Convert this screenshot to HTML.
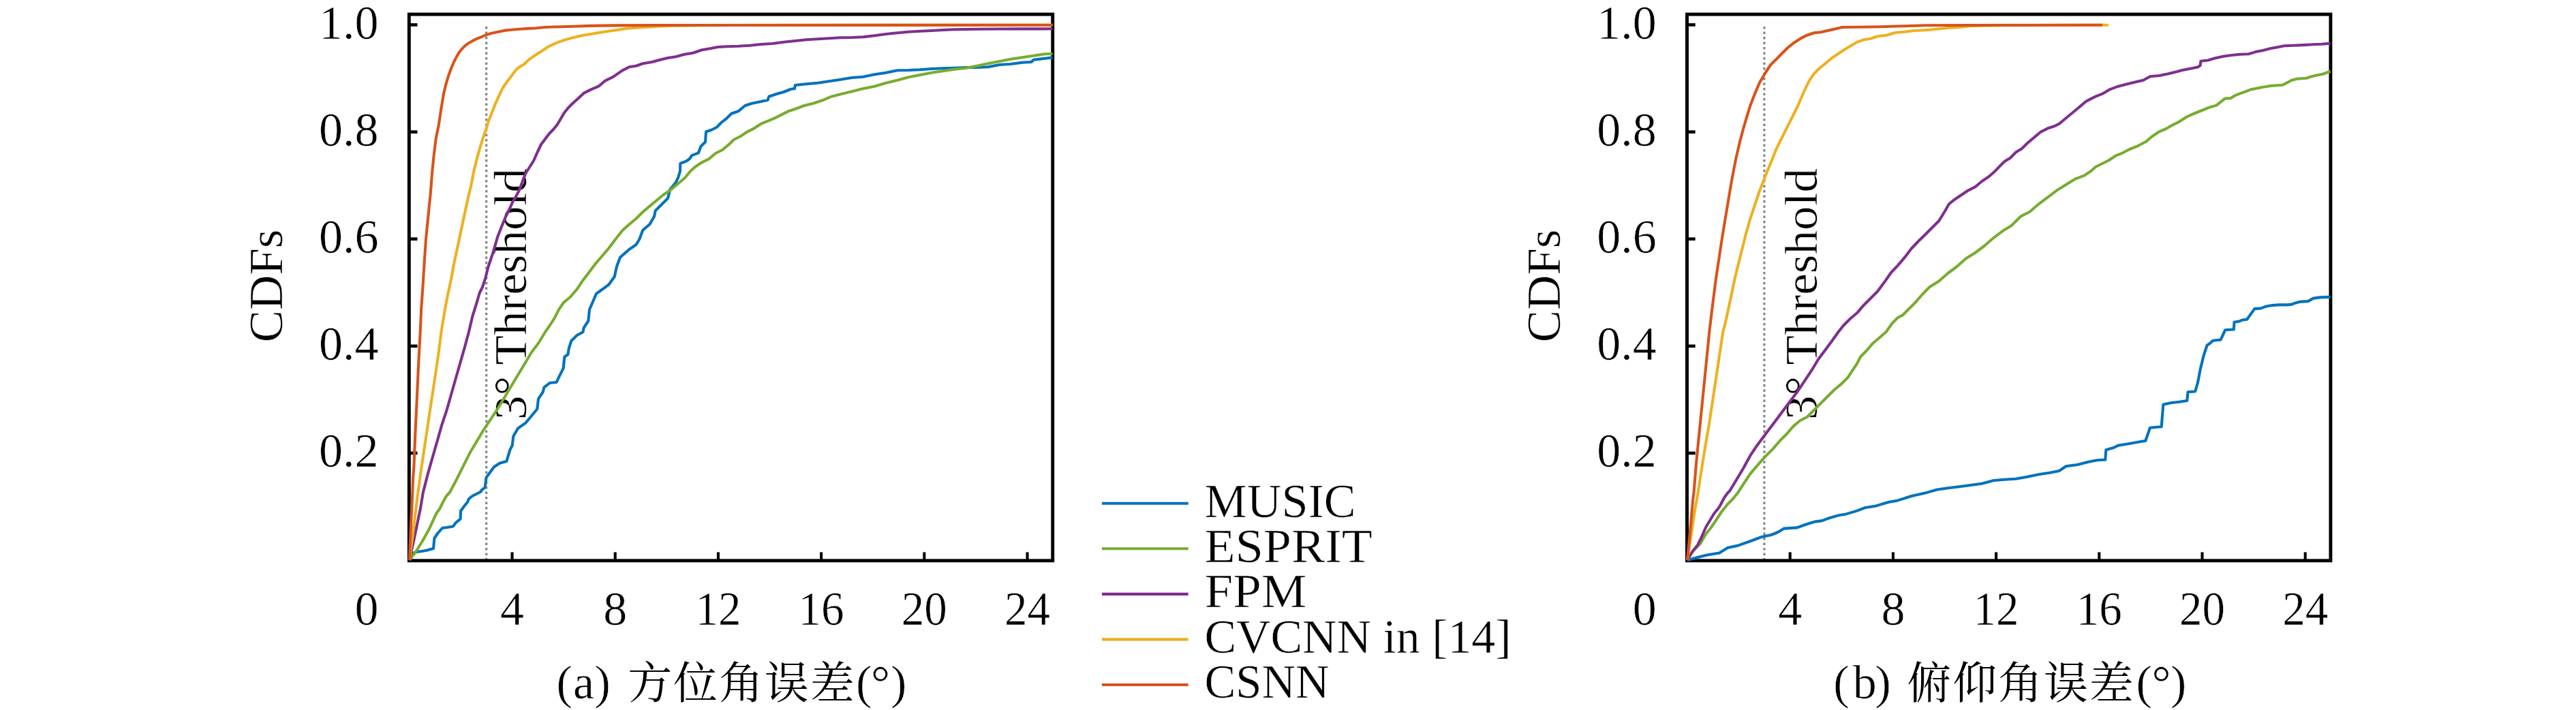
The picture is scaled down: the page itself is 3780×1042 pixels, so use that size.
<!DOCTYPE html>
<html lang="zh"><head><meta charset="utf-8"><title>CDFs</title>
<style>html,body{margin:0;padding:0;background:#fff}svg{display:block}text{font-family:"Liberation Serif","Noto Serif CJK SC",serif;fill:#000;stroke:#fff;stroke-width:0.55px;paint-order:fill stroke}.cj{font-family:"Noto Serif CJK SC","Liberation Serif",serif;stroke:none}</style></head><body>
<svg width="3780" height="1042" viewBox="0 0 3780 1042">
<rect width="3780" height="1042" fill="#fff"/>
<line x1="713.7" y1="822.5" x2="713.7" y2="37.4" stroke="#858585" stroke-width="3.2" stroke-dasharray="3.4 4.1"/>
<line x1="600.3" y1="665.0" x2="612.5" y2="665.0" stroke="#000" stroke-width="4.6"/>
<text x="555.5" y="685.2" font-size="70" text-anchor="end">0.2</text>
<line x1="600.3" y1="507.9" x2="612.5" y2="507.9" stroke="#000" stroke-width="4.6"/>
<text x="555.5" y="528.1" font-size="70" text-anchor="end">0.4</text>
<line x1="600.3" y1="350.7" x2="612.5" y2="350.7" stroke="#000" stroke-width="4.6"/>
<text x="555.5" y="370.9" font-size="70" text-anchor="end">0.6</text>
<line x1="600.3" y1="193.6" x2="612.5" y2="193.6" stroke="#000" stroke-width="4.6"/>
<text x="555.5" y="213.8" font-size="70" text-anchor="end">0.8</text>
<line x1="600.3" y1="36.4" x2="612.5" y2="36.4" stroke="#000" stroke-width="4.6"/>
<text x="555.5" y="56.6" font-size="70" text-anchor="end">1.0</text>
<line x1="751.5" y1="822.8" x2="751.5" y2="810.4" stroke="#000" stroke-width="4.1"/>
<text x="751.5" y="917.4" font-size="70" text-anchor="middle">4</text>
<line x1="902.7" y1="822.8" x2="902.7" y2="810.4" stroke="#000" stroke-width="4.1"/>
<text x="902.7" y="917.4" font-size="70" text-anchor="middle">8</text>
<line x1="1053.9" y1="822.8" x2="1053.9" y2="810.4" stroke="#000" stroke-width="4.1"/>
<text x="1053.9" y="917.4" font-size="70" text-anchor="middle" textLength="67" lengthAdjust="spacingAndGlyphs">12</text>
<line x1="1205.1" y1="822.8" x2="1205.1" y2="810.4" stroke="#000" stroke-width="4.1"/>
<text x="1205.1" y="917.4" font-size="70" text-anchor="middle" textLength="67" lengthAdjust="spacingAndGlyphs">16</text>
<line x1="1356.3" y1="822.8" x2="1356.3" y2="810.4" stroke="#000" stroke-width="4.1"/>
<text x="1356.3" y="917.4" font-size="70" text-anchor="middle" textLength="67" lengthAdjust="spacingAndGlyphs">20</text>
<line x1="1507.5" y1="822.8" x2="1507.5" y2="810.4" stroke="#000" stroke-width="4.1"/>
<text x="1507.5" y="917.4" font-size="70" text-anchor="middle" textLength="67" lengthAdjust="spacingAndGlyphs">24</text>
<text x="555.5" y="917.4" font-size="70" text-anchor="end">0</text>
<rect x="600.3" y="21.0" width="944.4" height="801.8" fill="none" stroke="#000" stroke-width="4.9"/>
<text transform="translate(771.5,616) rotate(-90)" font-size="68" textLength="369" lengthAdjust="spacingAndGlyphs">3° Threshold</text>
<polyline fill="none" stroke="#0072BD" stroke-width="4.1" stroke-linejoin="round" stroke-linecap="butt" points="600.8,822.0 605.0,812.0 612.0,810.0 625.0,808.0 636.0,805.0 637.4,790.0 642.0,783.0 649.0,775.0 656.0,774.0 665.0,772.4 669.0,767.0 675.6,761.6 676.0,750.0 681.0,743.0 686.0,737.0 688.0,732.0 693.0,728.0 699.0,725.0 705.0,722.0 707.0,719.0 711.7,715.3 713.5,701.0 715.0,698.7 725.0,685.3 733.3,679.7 743.3,677.0 748.3,660.3 751.7,653.7 753.3,640.3 760.0,628.7 771.7,620.3 780.0,610.3 788.3,600.3 790.0,585.3 796.7,575.3 798.3,568.7 806.7,562.0 816.7,561.0 820.0,553.7 826.7,540.3 828.3,523.7 833.3,520.3 835.0,510.3 838.3,500.3 846.7,492.0 855.5,487.2 856.7,481.0 863.3,471.0 865.0,454.3 870.0,442.7 875.0,431.0 886.7,422.7 893.3,417.7 901.7,406.0 905.0,391.0 910.0,377.7 923.3,366.0 933.3,359.3 938.3,351.0 943.3,337.7 953.3,329.3 960.0,317.7 961.7,309.3 971.7,299.3 980.0,291.0 983.3,277.7 991.7,267.7 995.0,261.0 998.0,251.2 998.3,240.0 1006.7,236.7 1011.7,233.3 1015.0,228.3 1025.0,224.3 1028.3,215.0 1035.0,208.3 1036.0,193.3 1043.3,191.0 1051.7,186.7 1058.3,180.0 1066.7,173.3 1073.3,166.7 1083.3,163.3 1093.3,155.0 1103.3,151.7 1116.7,149.0 1126.7,146.7 1128.3,141.7 1140.0,137.7 1150.0,135.0 1160.0,131.0 1166.0,130.0 1166.7,125.0 1183.3,123.3 1200.0,121.7 1216.7,119.3 1233.3,116.7 1250.0,114.0 1266.7,112.7 1283.3,109.3 1300.0,106.7 1316.7,103.3 1333.3,103.0 1350.0,102.3 1366.7,101.0 1383.3,100.3 1400.0,99.7 1416.7,99.0 1433.3,99.0 1450.0,98.3 1466.7,95.0 1483.3,94.0 1500.0,91.7 1513.3,91.0 1516.7,87.7 1533.3,85.7 1544.5,84.4"/>
<polyline fill="none" stroke="#77AC30" stroke-width="4.1" stroke-linejoin="round" stroke-linecap="butt" points="600.8,822.0 610.0,810.0 620.0,794.0 630.0,776.0 640.0,754.0 645.0,747.0 650.0,737.0 655.0,728.0 660.0,722.5 670.0,703.7 680.0,683.7 690.0,663.7 700.0,647.0 710.0,630.3 720.0,615.3 730.0,600.3 740.0,583.7 750.0,567.0 760.0,550.3 770.0,533.7 780.0,517.0 790.0,503.7 800.0,487.2 806.7,477.7 813.3,467.7 820.0,454.3 826.7,444.3 836.7,436.0 846.7,424.3 853.3,414.3 863.3,401.0 873.3,387.7 883.3,376.0 893.3,364.3 903.3,351.0 913.3,338.3 923.3,329.3 933.3,321.0 943.3,311.0 953.3,302.7 963.3,294.3 973.3,286.0 983.3,279.3 993.3,271.0 1005.0,261.0 1013.0,251.2 1020.0,245.0 1030.0,238.3 1040.0,233.3 1050.0,225.0 1060.0,220.0 1070.0,211.7 1076.7,205.0 1086.7,200.0 1096.7,193.3 1106.7,188.3 1116.7,181.7 1126.7,177.7 1136.7,173.3 1146.7,168.3 1156.7,163.3 1166.7,160.0 1180.0,155.0 1193.3,151.7 1206.7,147.3 1220.0,141.7 1233.3,138.3 1250.0,134.3 1266.7,130.0 1283.3,126.7 1300.0,121.7 1316.7,117.7 1333.3,113.3 1350.0,110.0 1366.7,106.7 1383.3,104.3 1400.0,101.7 1416.7,100.0 1433.3,96.7 1450.0,93.3 1466.7,90.0 1483.3,86.7 1500.0,84.3 1516.7,81.7 1533.3,79.3 1544.5,79.0"/>
<polyline fill="none" stroke="#7E2F8E" stroke-width="4.1" stroke-linejoin="round" stroke-linecap="butt" points="600.8,822.0 607.0,794.0 612.0,770.0 617.0,746.0 620.7,723.3 628.3,693.7 635.0,670.3 641.7,647.0 648.3,623.7 655.0,603.7 661.7,580.3 668.3,557.0 675.0,533.7 681.7,510.3 688.0,487.0 693.3,464.3 699.5,444.3 703.7,430.0 707.9,421.5 712.1,408.9 716.3,392.0 723.4,370.8 730.4,346.9 737.5,329.0 742.4,317.3 748.0,306.0 752.3,296.2 757.3,288.0 762.0,279.0 766.8,266.0 771.5,254.0 777.0,245.5 783.0,236.0 788.5,223.5 794.0,212.0 800.0,204.0 806.0,196.0 812.0,190.0 818.0,182.5 823.0,174.0 828.0,165.5 834.0,158.0 840.0,152.0 846.7,146.0 856.7,136.7 866.7,131.7 878.3,126.7 888.3,118.3 900.0,112.7 913.3,103.3 923.3,98.3 933.3,96.7 943.3,93.3 956.7,91.0 966.7,88.3 980.0,85.0 991.7,83.3 1003.3,80.0 1016.7,77.7 1030.0,73.3 1043.3,71.0 1053.3,69.0 1066.7,68.3 1083.3,67.7 1100.0,66.7 1116.7,65.0 1133.3,64.0 1150.0,61.7 1166.7,60.0 1183.3,58.3 1200.0,57.3 1216.7,56.3 1233.3,55.3 1250.0,55.0 1266.7,54.3 1283.3,52.3 1300.0,50.0 1316.7,48.3 1333.3,46.7 1350.0,45.7 1366.7,45.0 1383.3,44.0 1400.0,43.3 1433.3,42.7 1466.7,42.5 1500.0,42.4 1544.5,42.3"/>
<polyline fill="none" stroke="#EDB120" stroke-width="4.1" stroke-linejoin="round" stroke-linecap="butt" points="600.8,822.0 605.0,790.0 610.0,750.0 613.3,723.3 618.3,687.0 623.3,653.7 628.3,620.3 633.3,587.0 638.3,553.7 643.3,520.3 647.5,487.0 651.7,461.0 656.7,434.3 661.7,411.0 666.7,384.3 671.7,361.0 676.7,337.7 681.7,314.3 686.7,291.0 691.5,271.0 695.4,251.0 699.0,236.0 702.2,224.0 706.9,208.3 713.4,189.0 717.1,177.0 722.1,164.6 727.0,152.0 732.1,140.9 737.1,130.0 743.3,121.0 749.7,112.5 754.5,106.0 759.0,100.5 764.5,97.0 769.5,94.0 776.8,87.0 783.2,82.5 789.4,78.5 796.9,73.7 804.0,68.8 811.8,65.0 819.3,61.9 826.8,59.3 834.3,56.9 840.0,55.5 853.3,52.3 866.7,50.0 880.0,47.7 893.3,45.7 906.7,43.7 920.0,41.7 933.3,40.7 950.0,39.7 966.7,38.7 983.3,38.0 1000.0,37.7 1033.0,37.3 1070.0,37.0 1544.5,36.8"/>
<polyline fill="none" stroke="#D95319" stroke-width="4.1" stroke-linejoin="round" stroke-linecap="butt" points="600.8,822.0 603.0,770.0 605.3,723.0 606.2,700.0 607.3,687.0 609.3,637.0 611.7,587.0 614.0,537.0 616.7,487.0 618.3,451.0 620.7,417.7 622.7,384.3 625.0,351.0 628.3,317.7 631.7,284.3 634.3,251.0 637.0,225.0 639.9,201.9 643.6,184.5 647.4,159.6 651.1,137.1 654.8,122.2 658.6,109.7 662.3,99.8 666.0,91.0 669.8,83.6 673.5,77.3 677.3,72.4 682.2,67.4 687.2,63.6 693.5,59.9 699.7,56.9 707.2,53.9 713.4,51.2 719.6,49.2 729.6,46.9 739.6,44.9 749.5,43.7 762.0,42.7 774.5,41.9 786.9,41.2 799.4,40.0 811.8,39.5 824.3,39.2 840.0,38.8 866.7,37.9 900.0,37.4 966.0,37.0 1544.5,36.8"/>
<text transform="translate(414.0,419.5) rotate(-90)" font-size="70" text-anchor="middle" textLength="166" lengthAdjust="spacingAndGlyphs">CDFs</text>
<text y="1025" font-size="70" x="816.5 841.0 872.5">(a) <tspan class="cj" font-size="65" x="921.3 988.1 1055.0 1121.8 1188.7">方位角误差</tspan><tspan x="1256.0 1278.0 1307.0">(°)</tspan></text>
<line x1="2588.9" y1="822.5" x2="2588.9" y2="37.4" stroke="#858585" stroke-width="3.2" stroke-dasharray="3.4 4.1"/>
<line x1="2475.5" y1="665.0" x2="2487.7" y2="665.0" stroke="#000" stroke-width="4.6"/>
<text x="2430.7" y="685.2" font-size="70" text-anchor="end">0.2</text>
<line x1="2475.5" y1="507.9" x2="2487.7" y2="507.9" stroke="#000" stroke-width="4.6"/>
<text x="2430.7" y="528.1" font-size="70" text-anchor="end">0.4</text>
<line x1="2475.5" y1="350.7" x2="2487.7" y2="350.7" stroke="#000" stroke-width="4.6"/>
<text x="2430.7" y="370.9" font-size="70" text-anchor="end">0.6</text>
<line x1="2475.5" y1="193.6" x2="2487.7" y2="193.6" stroke="#000" stroke-width="4.6"/>
<text x="2430.7" y="213.8" font-size="70" text-anchor="end">0.8</text>
<line x1="2475.5" y1="36.4" x2="2487.7" y2="36.4" stroke="#000" stroke-width="4.6"/>
<text x="2430.7" y="56.6" font-size="70" text-anchor="end">1.0</text>
<line x1="2626.7" y1="822.8" x2="2626.7" y2="810.4" stroke="#000" stroke-width="4.1"/>
<text x="2626.7" y="917.4" font-size="70" text-anchor="middle">4</text>
<line x1="2777.9" y1="822.8" x2="2777.9" y2="810.4" stroke="#000" stroke-width="4.1"/>
<text x="2777.9" y="917.4" font-size="70" text-anchor="middle">8</text>
<line x1="2929.1" y1="822.8" x2="2929.1" y2="810.4" stroke="#000" stroke-width="4.1"/>
<text x="2929.1" y="917.4" font-size="70" text-anchor="middle" textLength="67" lengthAdjust="spacingAndGlyphs">12</text>
<line x1="3080.3" y1="822.8" x2="3080.3" y2="810.4" stroke="#000" stroke-width="4.1"/>
<text x="3080.3" y="917.4" font-size="70" text-anchor="middle" textLength="67" lengthAdjust="spacingAndGlyphs">16</text>
<line x1="3231.5" y1="822.8" x2="3231.5" y2="810.4" stroke="#000" stroke-width="4.1"/>
<text x="3231.5" y="917.4" font-size="70" text-anchor="middle" textLength="67" lengthAdjust="spacingAndGlyphs">20</text>
<line x1="3382.7" y1="822.8" x2="3382.7" y2="810.4" stroke="#000" stroke-width="4.1"/>
<text x="3382.7" y="917.4" font-size="70" text-anchor="middle" textLength="67" lengthAdjust="spacingAndGlyphs">24</text>
<text x="2430.7" y="917.4" font-size="70" text-anchor="end">0</text>
<rect x="2475.5" y="21.0" width="944.4" height="801.8" fill="none" stroke="#000" stroke-width="4.9"/>
<text transform="translate(2665.5,616) rotate(-90)" font-size="68" textLength="369" lengthAdjust="spacingAndGlyphs">3° Threshold</text>
<polyline fill="none" stroke="#0072BD" stroke-width="4.1" stroke-linejoin="round" stroke-linecap="butt" points="2476.0,822.0 2491.0,818.0 2505.0,814.4 2523.0,811.4 2535.0,804.0 2551.0,800.4 2569.0,794.0 2585.0,788.0 2599.0,785.0 2609.0,781.0 2618.0,775.6 2637.0,774.4 2649.0,770.0 2663.0,765.6 2673.0,764.4 2685.0,760.0 2697.0,756.6 2709.0,754.4 2725.0,749.6 2737.0,745.0 2753.0,742.4 2771.0,737.0 2785.0,734.4 2805.0,728.0 2825.0,723.6 2841.7,718.7 2858.3,716.3 2875.0,714.3 2891.7,712.0 2908.3,709.7 2925.0,705.3 2941.7,703.7 2958.3,702.7 2975.0,699.7 2991.7,696.3 3008.3,693.7 3021.7,691.0 3031.7,684.3 3048.3,682.0 3065.0,677.7 3078.3,675.3 3089.3,674.7 3090.3,660.3 3101.7,657.0 3108.3,653.7 3125.0,651.0 3141.7,648.0 3148.3,647.0 3155.0,627.7 3171.7,626.3 3174.3,593.7 3185.0,591.3 3198.3,589.7 3209.3,588.0 3210.5,575.2 3221.2,574.5 3224.9,562.0 3228.7,542.1 3233.6,522.1 3238.6,506.7 3242.4,504.2 3247.4,499.7 3258.6,498.7 3265.3,484.2 3277.8,483.5 3278.5,472.8 3286.0,471.5 3289.7,469.8 3297.2,468.8 3308.4,453.1 3317.1,452.6 3324.6,449.8 3334.6,448.1 3344.5,447.4 3357.0,447.4 3363.2,446.6 3367.0,444.9 3374.5,442.9 3386.9,442.1 3394.4,437.9 3404.4,436.4 3419.5,435.9"/>
<polyline fill="none" stroke="#77AC30" stroke-width="4.1" stroke-linejoin="round" stroke-linecap="butt" points="2476.0,822.0 2485.0,808.0 2495.0,798.0 2503.0,784.0 2511.0,774.0 2519.0,762.0 2527.0,750.0 2535.0,740.0 2543.0,732.0 2550.0,723.3 2558.3,710.3 2568.3,695.3 2578.3,683.7 2590.0,670.3 2601.7,658.7 2611.7,647.0 2621.7,637.0 2631.7,625.3 2641.7,617.0 2651.7,612.0 2661.7,602.0 2671.7,592.0 2681.7,582.0 2691.7,572.0 2701.7,563.7 2711.7,553.7 2718.3,543.7 2725.0,533.7 2730.0,523.7 2738.3,515.3 2748.3,503.7 2758.3,495.3 2767.5,487.2 2776.7,474.3 2785.0,466.0 2791.7,462.7 2801.7,452.7 2811.7,442.7 2821.7,431.0 2831.7,421.0 2845.0,412.7 2858.3,401.0 2871.7,391.0 2885.0,379.3 2898.3,371.0 2911.7,361.0 2925.0,349.3 2938.3,339.3 2951.7,331.0 2965.0,317.7 2978.3,311.0 2991.7,299.3 3005.0,289.3 3018.3,279.3 3031.7,271.0 3045.0,262.7 3058.3,257.7 3068.0,251.2 3075.0,245.0 3085.0,240.0 3095.0,235.0 3105.0,228.3 3115.0,224.3 3125.0,219.0 3136.7,214.3 3148.3,208.3 3158.3,200.0 3168.3,193.3 3178.3,189.0 3188.3,183.3 3198.3,178.3 3210.0,170.8 3219.9,166.5 3229.9,162.5 3239.9,158.3 3252.3,154.6 3258.6,149.6 3264.8,144.6 3273.5,144.1 3279.8,140.1 3287.2,137.1 3294.7,134.6 3302.2,131.6 3309.7,130.1 3319.6,127.9 3332.1,125.9 3342.1,125.2 3349.5,124.7 3357.0,120.9 3362.0,117.9 3369.5,115.9 3376.9,115.2 3384.4,114.7 3391.9,112.2 3399.4,110.4 3409.3,108.5 3419.5,104.7"/>
<polyline fill="none" stroke="#7E2F8E" stroke-width="4.1" stroke-linejoin="round" stroke-linecap="butt" points="2476.0,822.0 2483.0,810.0 2491.0,800.0 2497.0,788.0 2503.0,774.0 2509.0,764.0 2515.0,754.0 2523.0,744.0 2531.0,729.0 2536.0,722.5 2538.3,720.3 2548.3,703.7 2558.3,687.0 2568.3,668.7 2578.3,653.7 2588.3,640.3 2598.3,627.0 2608.3,613.7 2618.3,600.3 2628.3,587.0 2638.3,573.7 2648.3,558.7 2658.3,543.7 2668.3,527.0 2678.3,513.7 2688.3,500.3 2697.5,487.2 2705.0,477.7 2715.0,467.7 2725.0,459.3 2735.0,447.7 2745.0,437.7 2755.0,427.7 2765.0,414.3 2775.0,400.0 2785.0,389.3 2795.0,377.7 2805.0,364.5 2815.0,354.0 2825.0,344.3 2835.0,334.3 2845.0,324.3 2853.3,311.0 2860.0,299.3 2868.3,292.7 2878.3,286.0 2888.3,279.3 2898.3,274.3 2908.3,266.0 2918.3,259.3 2927.5,251.2 2935.0,243.3 2941.7,236.7 2950.0,231.7 2958.3,223.3 2966.7,218.3 2975.0,210.0 2985.0,201.7 2995.0,193.3 3005.0,188.3 3015.0,185.0 3021.7,181.7 3031.7,173.3 3041.7,165.0 3051.7,156.7 3061.7,148.3 3075.0,141.7 3085.0,137.7 3095.0,131.7 3108.3,126.7 3121.7,123.3 3135.0,120.0 3145.0,117.7 3155.0,112.3 3168.3,111.0 3181.7,108.3 3195.0,105.0 3200.0,103.5 3212.5,101.0 3224.9,98.5 3228.7,96.0 3229.4,89.8 3239.9,88.5 3249.8,85.5 3262.3,82.8 3274.8,81.0 3287.2,79.8 3299.7,79.3 3309.7,76.1 3319.6,74.3 3332.1,71.1 3342.1,69.3 3352.0,67.3 3364.5,66.8 3379.4,66.1 3394.4,65.3 3406.9,64.8 3419.5,63.6"/>
<polyline fill="none" stroke="#EDB120" stroke-width="4.1" stroke-linejoin="round" stroke-linecap="butt" points="2476.0,822.0 2481.0,789.0 2486.5,752.0 2492.0,721.0 2497.0,688.0 2502.5,654.0 2508.3,620.3 2513.3,587.0 2518.3,553.7 2523.3,520.3 2528.3,487.0 2531.7,474.3 2536.7,451.0 2541.7,427.7 2546.7,404.3 2551.7,384.3 2556.7,364.3 2561.7,344.3 2568.3,321.0 2575.0,301.0 2581.7,281.0 2588.3,264.3 2593.3,251.2 2600.0,235.0 2606.7,218.3 2613.3,205.0 2620.0,191.7 2626.7,178.3 2633.3,165.0 2638.3,155.0 2643.3,143.3 2648.3,131.7 2655.0,118.3 2661.7,108.3 2670.0,100.0 2678.3,93.3 2688.3,85.0 2698.3,78.3 2708.3,71.7 2718.3,65.7 2725.0,61.7 2735.0,58.3 2745.0,56.7 2755.0,53.3 2768.3,51.7 2781.7,47.7 2795.0,46.7 2808.3,45.0 2825.0,44.3 2841.7,42.7 2858.3,41.0 2875.0,40.0 2891.7,38.3 2908.3,37.7 2941.7,37.3 3094.0,36.7"/>
<polyline fill="none" stroke="#D95319" stroke-width="4.1" stroke-linejoin="round" stroke-linecap="butt" points="2476.0,822.0 2480.0,780.0 2484.0,735.0 2485.5,723.0 2489.0,680.3 2493.3,637.0 2498.3,587.0 2503.3,537.0 2508.3,487.0 2511.0,464.3 2514.3,437.7 2517.7,411.0 2521.7,384.3 2525.7,357.7 2530.0,331.0 2535.0,301.0 2540.0,271.0 2543.7,251.2 2547.5,231.7 2553.0,208.3 2558.3,188.3 2563.2,171.7 2568.3,155.0 2572.8,143.3 2577.5,131.7 2581.7,121.7 2586.7,113.3 2591.7,105.0 2598.3,95.0 2606.7,86.7 2615.0,78.3 2623.3,70.0 2631.7,63.3 2641.7,56.7 2651.7,51.7 2661.7,48.3 2671.7,47.3 2681.7,45.0 2691.7,42.7 2703.3,40.0 2725.0,39.7 2758.3,39.3 2791.7,38.3 2825.0,37.3 2891.7,37.0 3085.0,36.7"/>
<text transform="translate(2289.2,419.5) rotate(-90)" font-size="70" text-anchor="middle" textLength="166" lengthAdjust="spacingAndGlyphs">CDFs</text>
<text y="1025" font-size="70" x="2690.2 2718.7 2751.5">(b) <tspan class="cj" font-size="65" x="2798.3 2865.2 2932.0 2998.9 3065.7">俯仰角误差</tspan><tspan x="3134.5 3157.5 3185.0">(°)</tspan></text>
<line x1="1616.9" y1="738.8" x2="1743.7" y2="738.8" stroke="#0072BD" stroke-width="4.1"/>
<text x="1767.5" y="758.6" font-size="69.5" textLength="222" lengthAdjust="spacingAndGlyphs">MUSIC</text>
<line x1="1616.9" y1="805.3" x2="1743.7" y2="805.3" stroke="#77AC30" stroke-width="4.1"/>
<text x="1767.5" y="825.0" font-size="69.5" textLength="246.5" lengthAdjust="spacingAndGlyphs">ESPRIT</text>
<line x1="1616.9" y1="871.9" x2="1743.7" y2="871.9" stroke="#7E2F8E" stroke-width="4.1"/>
<text x="1767.5" y="891.4" font-size="69.5" textLength="150" lengthAdjust="spacingAndGlyphs">FPM</text>
<line x1="1616.9" y1="938.4" x2="1743.7" y2="938.4" stroke="#EDB120" stroke-width="4.1"/>
<text x="1767.5" y="957.8" font-size="69.5" textLength="450" lengthAdjust="spacingAndGlyphs">CVCNN in [14]</text>
<line x1="1616.9" y1="1005.0" x2="1743.7" y2="1005.0" stroke="#D95319" stroke-width="4.1"/>
<text x="1767.5" y="1024.2" font-size="69.5" textLength="183" lengthAdjust="spacingAndGlyphs">CSNN</text>
</svg></body></html>
